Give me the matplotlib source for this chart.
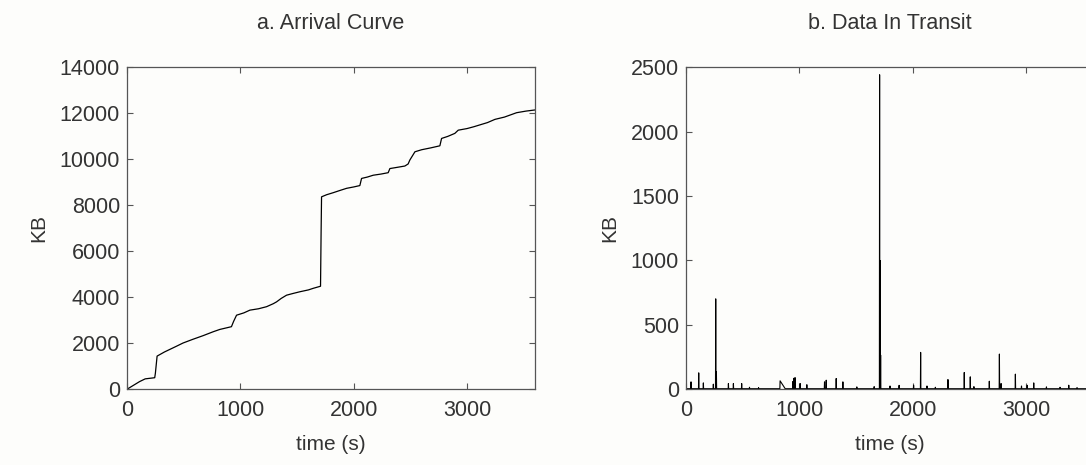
import matplotlib
matplotlib.use("Agg")
import matplotlib.pyplot as plt

plt.rcParams['font.family'] = ['Liberation Sans', 'DejaVu Sans']

# a. arrival curve (time s, cumulative KB)
arr_t = [0, 40, 110, 160, 244, 250, 265, 330, 436, 494, 580, 671, 760, 818,
         921, 940, 966, 1030, 1084, 1160, 1231, 1290, 1319, 1360, 1407, 1460,
         1525, 1600, 1643, 1707, 1712, 1716, 1760, 1819, 1880, 1937, 2000,
         2054, 2069, 2120, 2172, 2240, 2304, 2319, 2380, 2451, 2480, 2495,
         2540, 2600, 2680, 2760, 2775, 2830, 2892, 2922, 3000, 3060, 3113,
         3180, 3246, 3330, 3437, 3520, 3600]
arr_kb = [0, 120, 330, 450, 500, 700, 1440, 1620, 1870, 2010, 2170, 2330,
          2500, 2600, 2720, 2950, 3220, 3320, 3440, 3500, 3590, 3720, 3800,
          3950, 4090, 4160, 4240, 4320, 4390, 4480, 6800, 8370, 8460, 8550,
          8650, 8740, 8800, 8860, 9170, 9230, 9310, 9360, 9420, 9600, 9650,
          9710, 9800, 9970, 10330, 10420, 10500, 10590, 10910, 11000, 11130,
          11270, 11340, 11420, 11500, 11600, 11740, 11840, 12030, 12100, 12150]

# b. data in transit: spikes (time s, KB) above a small baseline
spike_t = [44, 112, 153, 241, 262, 268, 374, 418, 491, 560, 640, 830, 943,
           952, 962, 1007, 1066, 1222, 1237, 1325, 1384, 1507, 1660, 1708,
           1712, 1717, 1800, 1880, 2008, 2070, 2126, 2200, 2311, 2455, 2508,
           2540, 2676, 2765, 2780, 2906, 2960, 3010, 3068, 3180, 3300, 3377,
           3450, 3550]
spike_kb = [57, 127, 49, 39, 702, 135, 44, 44, 44, 15, 12, 65, 60, 85, 90,
            44, 35, 57, 70, 83, 57, 18, 20, 2443, 1000, 265, 25, 30, 30, 286,
            25, 15, 75, 130, 96, 20, 62, 273, 44, 117, 25, 30, 49, 18, 15, 31,
            12, 10]
base_kb = 4

tr_t, tr_kb = [0], [base_kb]
for t, kb in zip(spike_t, spike_kb):
    w = 45 if t == 830 else 2
    tr_t += [t - 2, t, t + w]
    tr_kb += [base_kb, kb, base_kb]
tr_t.append(3600)
tr_kb.append(base_kb)

txt = '#333333'
fig = plt.figure(figsize=(10.86, 4.65), dpi=100, facecolor='#fdfdfb')
ax1 = fig.add_axes([0.117, 0.163, 0.3757, 0.692])
ax2 = fig.add_axes([0.6317, 0.163, 0.3757, 0.692])

ax1.plot(arr_t, arr_kb, color='black', lw=0.9)
ax1.set_ylim(0, 14000)
ax1.set_yticks(range(0, 14001, 2000))
ax1.set_title('a. Arrival Curve', fontsize=15.5, color=txt, pad=28)

ax2.plot(tr_t, tr_kb, color='black', lw=0.8)
ax2.set_ylim(0, 2500)
ax2.set_yticks(range(0, 2501, 500))
ax2.set_title('b. Data In Transit', fontsize=15.5, color=txt, pad=28)

for ax in (ax1, ax2):
    ax.set_facecolor('#fdfdfb')
    ax.set_xlim(0, 3600)
    ax.set_xticks([0, 1000, 2000, 3000])
    ax.tick_params(direction='in', top=True, right=True, labelsize=15.5,
                   labelcolor=txt, color='#555555', length=4, pad=5)
    ax.tick_params(axis='x', pad=8)
    for s in ax.spines.values():
        s.set_color('#555555')
        s.set_linewidth(0.9)
    ax.set_xlabel('time (s)', fontsize=15, color=txt, labelpad=10)
    ax.set_ylabel('KB', fontsize=15, color=txt, labelpad=8)

fig.savefig('out.png', dpi=100, facecolor=fig.get_facecolor())
